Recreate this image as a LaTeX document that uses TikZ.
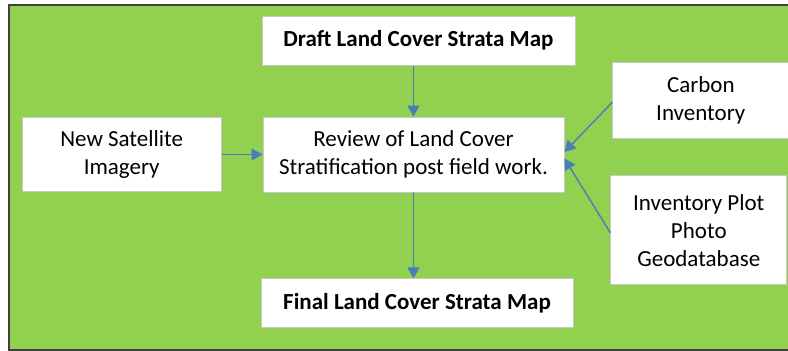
\documentclass[tikz,border=0pt]{standalone}
\usepackage{fontspec}
\setmainfont{Carlito}
\usepackage{xcolor}
\usepackage{tikz}
\usetikzlibrary{arrows.meta}
\usetikzlibrary{positioning}
\definecolor{leafgreen}{HTML}{92D050}
\definecolor{linkblue}{HTML}{4A7EBB}
\definecolor{boxgray}{HTML}{C8C8C8}
\tikzstyle{block} = [rectangle, draw=boxgray, fill=white, line width=0.8pt,
    align=center, font=\fontsize{23}{28}\selectfont]
\tikzstyle{block_bold} = [block, font=\bfseries\fontsize{23}{28}\selectfont]
\tikzstyle{line} = [draw, linkblue, line width=1.4pt, -{Triangle[length=11pt,width=12pt]}]

\begin{document}
\begin{tikzpicture}[x=1pt, y=-1pt, node distance = 41pt]
    \useasboundingbox (0,0) rectangle (788,351);
    % Background panel
    \fill [leafgreen] (9,5) rectangle (788,350);
    \draw [line width=1.5pt, black!75] (788,5) -| (9,350) -- (788,350);

    % Place nodes
    \node [block, minimum width=301pt, minimum height=75pt] (review) at (413.5,154.5)
        {Review of Land Cover\\Stratification post field work.};
    \node [block_bold, minimum width=313pt, minimum height=49pt, above=51pt of review, xshift=5pt] (draft)
        {Draft Land Cover Strata Map};
    \node [block_bold, minimum width=312pt, minimum height=49pt, below=86pt of review, xshift=3.5pt] (final)
        {Final Land Cover Strata Map};
    \node [block, minimum width=199pt, minimum height=74pt, left=of review] (imagery)
        {New Satellite\\Imagery};
    \node [block, minimum width=176pt, minimum height=76pt, above right=-22pt and 48pt of review] (carbon)
        {Carbon\\Inventory};
    \node [block, minimum width=176pt, minimum height=109pt, below right=-17pt and 46pt of review] (plots)
        {Inventory Plot\\Photo\\Geodatabase};

    % Draw edges
    \path [line] (draft.south -| review) -- (review.north);
    \path [line] (review.south) -- (review.south |- final.north);
    \path [line] (imagery) -- (review);
    \path [line] ([yshift=-2pt]carbon.west) -- ([yshift=2.5pt]review.east);
    \path [line] ([yshift=-2.5pt]plots.west) -- ([yshift=-4pt]review.east);
\end{tikzpicture}
\end{document}
